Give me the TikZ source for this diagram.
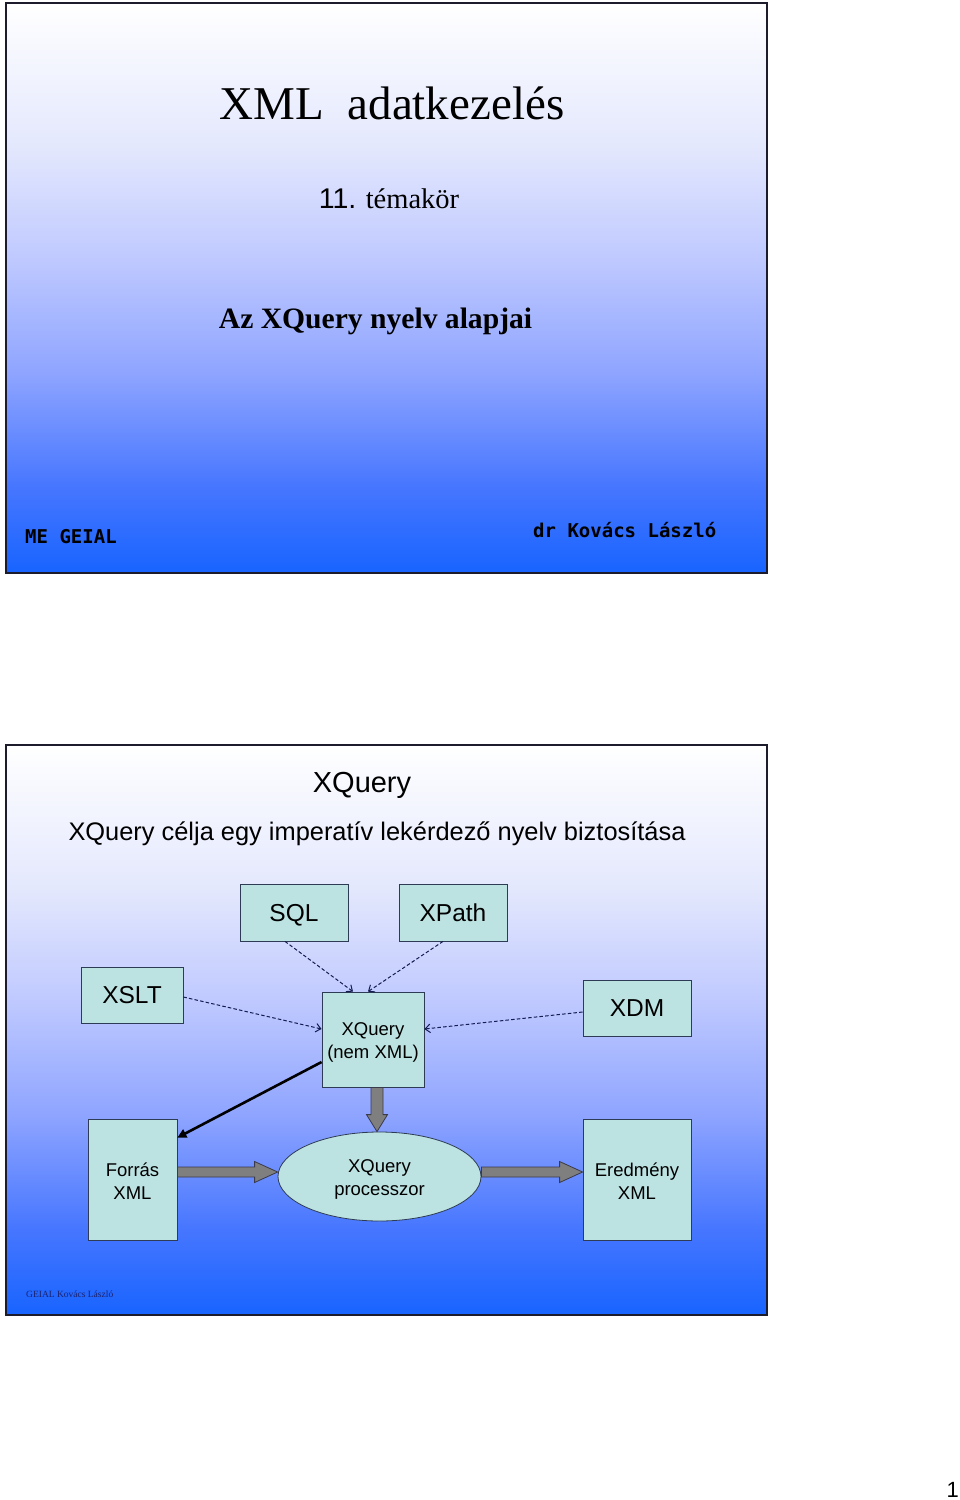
\documentclass[tikz,border=0pt]{standalone}
\usepackage{fontspec}
\setmainfont{Liberation Serif}
\setsansfont{Liberation Sans}
\newfontfamily\monobold{DejaVu Sans Mono Bold}
\usetikzlibrary{arrows.meta,shapes.geometric,calc}
\definecolor{boxfill}{HTML}{BCE3E2}
\definecolor{boxline}{HTML}{2E3B55}
\definecolor{dashcol}{HTML}{141C50}
\definecolor{framecol}{HTML}{1C1C2C}
\definecolor{arrfill}{HTML}{7F7F7F}
\definecolor{arrline}{HTML}{3A3A4A}
\definecolor{footcol}{HTML}{1A2270}
\definecolor{sA}{HTML}{1864FF}
\definecolor{sB}{HTML}{4676FF}
\definecolor{sC}{HTML}{8EA4FF}
\definecolor{sD}{HTML}{BFC9FF}
\definecolor{sE}{HTML}{E4E8FD}
\pgfdeclareverticalshading{slideshade}{100bp}{color(0bp)=(sA); color(25bp)=(sA); color(32.5bp)=(sB); color(42.5bp)=(sC); color(52.5bp)=(sD); color(62.5bp)=(sE); color(75bp)=(white); color(100bp)=(white)}
\newcommand\fs[1]{\fontsize{#1}{#1}\selectfont}
\newcommand\harrow[2]{\path let \p1=(#1), \p2=(#2) in [blockarr] (\x1,\y1+5pt) -- (\x2-23pt,\y1+5pt) -- (\x2-23pt,\y1+10.5pt) -- (\x2,\y1) -- (\x2-23pt,\y1-10.5pt) -- (\x2-23pt,\y1-5pt) -- (\x1,\y1-5pt) -- cycle;}
\newcommand\varrow[2]{\path let \p1=(#1), \p2=(#2) in [blockarr] (\x1-6pt,\y1) -- (\x1-6pt,\y2+17pt) -- (\x1-10.5pt,\y2+17pt) -- (\x1,\y2) -- (\x1+10.5pt,\y2+17pt) -- (\x1+6pt,\y2+17pt) -- (\x1+6pt,\y1) -- cycle;}
\tikzset{
  frame/.style={draw=framecol,line width=2pt},
  tbox/.style={draw=boxline,fill=boxfill,line width=0.8pt,inner sep=0pt,text height=17.5pt,text depth=0pt,font=\sffamily\fs{24.5}},
  sbox/.style={draw=boxline,fill=boxfill,line width=0.8pt,inner sep=0pt},
  stext/.style={inner sep=0pt,align=center,font=\sffamily\fontsize{18.5}{23}\selectfont},
  dasharr/.style={draw=dashcol,line width=1pt,dash pattern=on 3.5pt off 2.2pt,-{Straight Barb[length=5pt,width=8.5pt]}},
  blockarr/.style={draw=arrline,fill=arrfill,line width=0.8pt},
  boldarr/.style={draw=black,line width=2.6pt,-{Triangle[length=9pt,width=9pt]}},
  plain/.style={inner sep=0pt}
}
\begin{document}
\begin{tikzpicture}[x=1pt,y=-1pt]
\useasboundingbox (0,0) rectangle (960,1500);
\fill[white] (0,0) rectangle (960,1500);
% ---------- top slide ----------
\shade[shading=slideshade] (6,3) rectangle (767,573);
\draw[frame] (6,3) rectangle (767,573);
\node[plain,anchor=base] (title) at (392,119) {\fs{47}XML\ \ adatkezelés};
\node[plain,anchor=base] (topic) at (389,208) {\fs{28.5}{\sffamily 11.} témakör};
\node[plain,anchor=base] (sub) at (375.5,328) {\fs{29.6}\bfseries Az XQuery nyelv alapjai};
\node[plain,anchor=base west] (me) at (25,543) {\monobold\fs{19}ME GEIAL};
\node[plain,anchor=base west] (dr) at (533,537) {\monobold\fs{19}dr Kovács László};
% ---------- bottom slide ----------
\shade[shading=slideshade] (6,745) rectangle (767,1315);
\draw[frame] (6,745) rectangle (767,1315);
\node[plain,anchor=base] (h) at (362,792) {\sffamily\fs{29}XQuery};
\node[plain,anchor=base] (s) at (377,840) {\sffamily\fs{25.4}XQuery célja egy imperatív lekérdező nyelv biztosítása};
\node[tbox,minimum width=108,minimum height=57] (sql) at (294,912.5) {SQL};
\node[tbox,minimum width=108,minimum height=57] (xpath) at (453,912.5) {XPath};
\node[tbox,minimum width=102,minimum height=56] (xslt) at (132,995) {XSLT};
\node[tbox,minimum width=108,minimum height=56] (xdm) at (637,1008) {XDM};
\node[sbox,minimum width=102,minimum height=95] (xq) at (373,1039.5) {};
\node[stext] (xqt) at ([yshift=-3pt]xq.center) {XQuery\\(nem XML)};
\node[sbox,minimum width=89,minimum height=121] (forras) at (132.5,1179.5) {};
\node[stext] (forrast) at ([yshift=-2pt]forras.center) {Forrás\\XML};
\node[sbox,ellipse,minimum width=203,minimum height=89] (proc) at (379.5,1176.5) {};
\node[stext] (proct) at ([yshift=-3pt]proc.center) {XQuery\\processzor};
\node[sbox,minimum width=108,minimum height=121] (ered) at (637,1179.5) {};
\node[stext] (eredt) at ([yshift=-2pt]ered.center) {Eredmény\\XML};
% dashed connectors
\draw[dasharr] ([xshift=-9pt]sql.south) -- ([xshift=-20pt]xq.north);
\draw[dasharr] ([xshift=-10pt]xpath.south) -- ([xshift=-5pt]xq.north);
\draw[dasharr] ([yshift=-2pt]xslt.east) -- ([yshift=10.5pt]xq.west);
\draw[dasharr] ([yshift=-4pt]xdm.west) -- ([yshift=10.5pt]xq.east);
% bold arrow
\draw[boldarr] ([yshift=-22.5pt]xq.west) -- ([yshift=-19pt]forras.north east);
% block arrows
\coordinate (fa) at ([yshift=7.5pt]forras.east);
\coordinate (fb) at (proc.west |- fa);
\harrow{fa}{fb}
\coordinate (ea) at (proc.east |- fa);
\coordinate (eb) at (ered.west |- fa);
\harrow{ea}{eb}
\coordinate (va) at ([xshift=4pt]xq.south);
\coordinate (vb) at (va |- proc.north);
\varrow{va}{vb}
\node[plain,anchor=base west,text=footcol] (foot) at (26,1297) {\fs{9.5}GEIAL Kovács László};
% page number
\node[plain,anchor=base east] (pg) at (959,1497) {\sffamily\fs{22}1};
\end{tikzpicture}
\end{document}
